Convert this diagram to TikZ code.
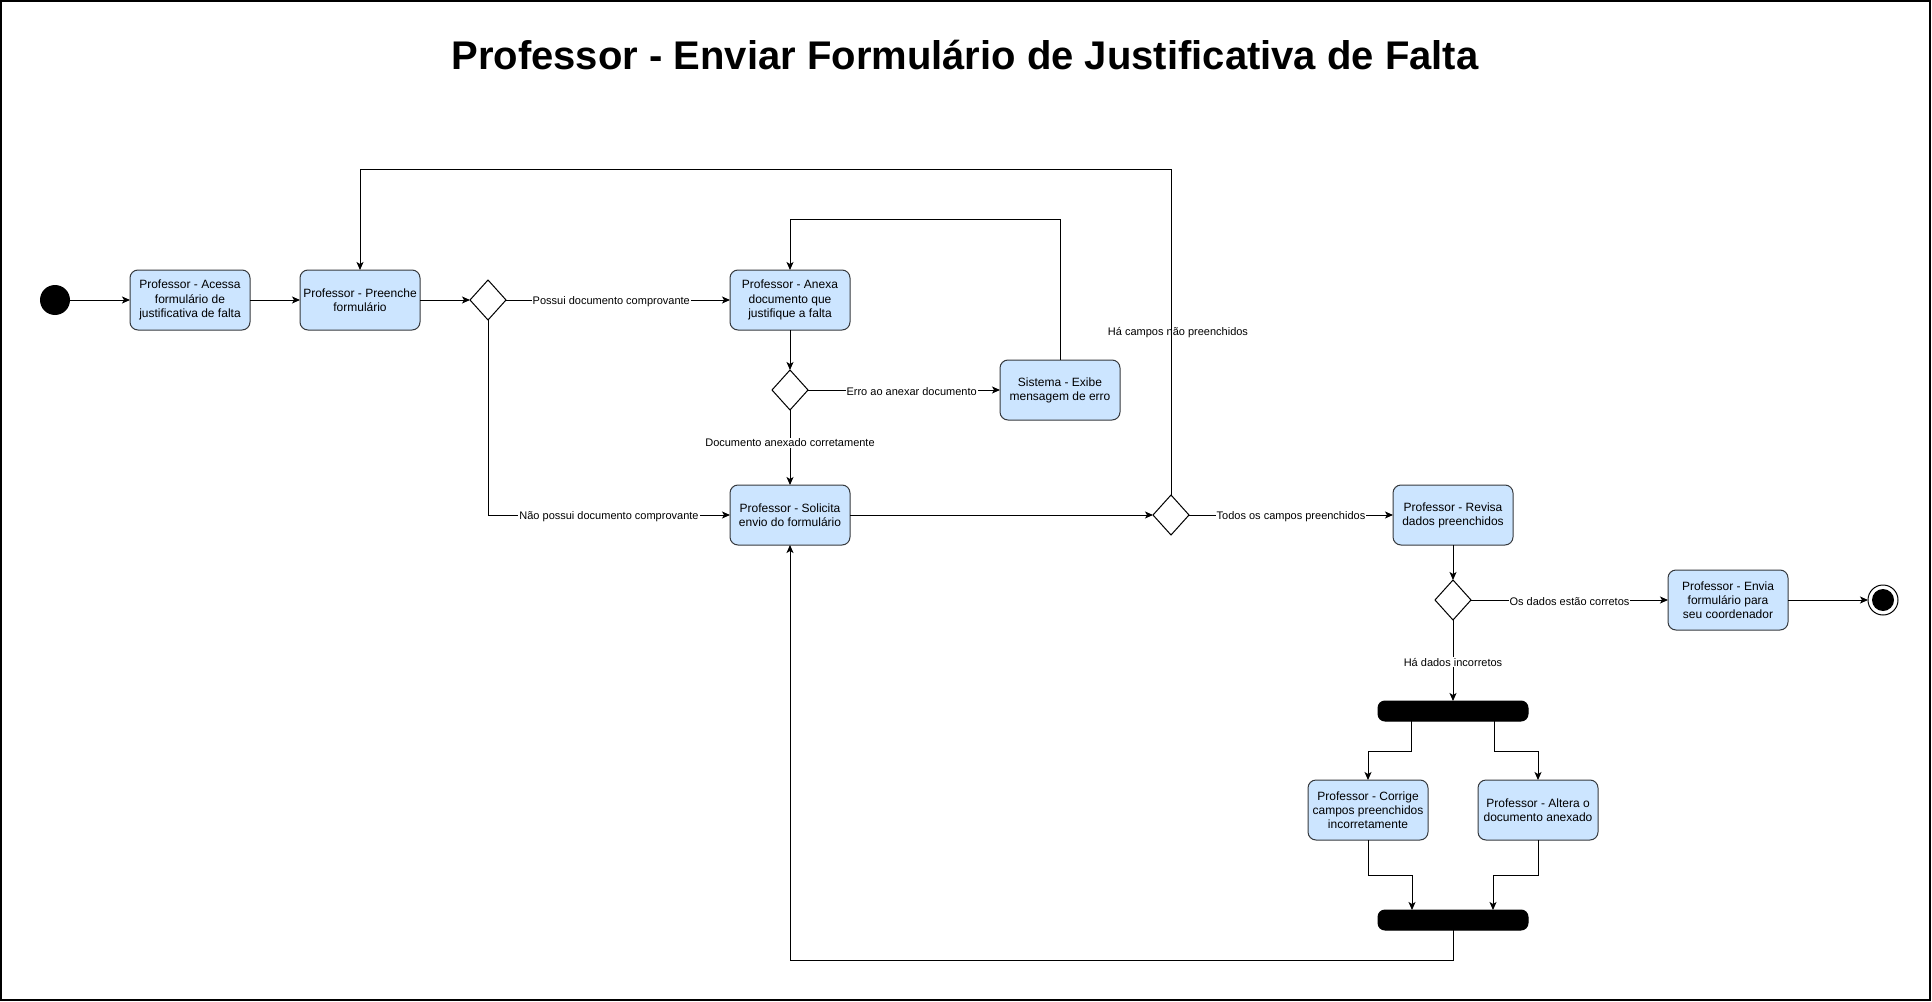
\documentclass[tikz,border=0pt]{standalone}
\usepackage{fontspec}
\setmainfont{Liberation Sans}
\usepackage{tikz}
\usetikzlibrary{arrows.meta,positioning,shapes.geometric}

\definecolor{actfill}{HTML}{CCE5FF}
\definecolor{actline}{HTML}{36393D}
\newdimen\pxu
\pxu=0.75pt

\begin{document}
\begin{tikzpicture}[x=0.75pt,y=-0.75pt,line width=0.75pt,>={Stealth[length=6pt,width=5.25pt,inset=1.5pt]}]
	\tikzstyle{act} = [draw=actline, fill=actfill, rectangle, rounded corners=8\pxu, minimum height=60\pxu, minimum width=120\pxu, align=center, inner sep=1\pxu, outer sep=0pt, font=\fontsize{9}{10.6}\selectfont]
	\tikzstyle{decision} = [draw, fill=white, diamond, minimum width=36\pxu, minimum height=40\pxu, inner sep=0pt, outer sep=0pt]
	\tikzstyle{bar} = [draw, fill=black, rectangle, rounded corners=7\pxu, minimum height=20\pxu, minimum width=150\pxu, inner sep=0pt, outer sep=0pt]
	\tikzstyle{lbl} = [fill=white, inner sep=1\pxu, font=\fontsize{8.25}{9.9}\selectfont]
	
	\useasboundingbox (0,0) rectangle (1932,1002);
	\draw[line width=1pt] (1,1) rectangle (1930,1000);
	\node[font=\fontsize{30}{36}\selectfont\bfseries] (title) at (965,55) {Professor - Enviar Formulário de Justificativa de Falta};
	
	% main row
	\node[circle, fill=black, minimum size=30\pxu, inner sep=0pt, outer sep=0pt] (start) at (55,300) {};
	\node[act, right = 60\pxu of start] (acessa) {Professor - Acessa\\formulário de\\justificativa de falta};
	\node[act, right = 50\pxu of acessa] (preenche) {Professor - Preenche\\formulário};
	\node[decision, right = 50\pxu of preenche] (d1) {};
	\node[act, right = 224\pxu of d1] (anexa) {Professor - Anexa\\documento que\\justifique a falta};
	\node[decision, below = 40\pxu of anexa] (d2) {};
	\node[act, right = 192\pxu of d2] (erro) {Sistema - Exibe\\mensagem de erro};
	\node[act, below = 75\pxu of d2] (solicita) {Professor - Solicita\\envio do formulário};
	\node[decision, right = 303\pxu of solicita] (d3) {};
	\node[act, right = 204\pxu of d3] (revisa) {Professor - Revisa\\dados preenchidos};
	\node[decision, below = 35\pxu of revisa] (d4) {};
	\node[act, right = 197\pxu of d4] (envia) {Professor - Envia\\formulário para\\seu coordenador};
	\node[circle, draw, fill=white, minimum size=30\pxu, inner sep=0pt, outer sep=0pt, right = 80\pxu of envia] (fin) {};
	\fill (fin.center) circle (11\pxu);
	
	% fork / join
	\node[bar, below = 81\pxu of d4] (fork) {};
	\node[act, below = 59\pxu of fork, xshift=-85\pxu] (corrige) {Professor - Corrige\\campos preenchidos\\incorretamente};
	\node[act, below = 59\pxu of fork, xshift=85\pxu] (altera) {Professor - Altera o\\documento anexado};
	\node[bar, below = 189\pxu of fork] (join) {};
	
	\coordinate[above = 100\pxu of preenche] (topb);
	\coordinate[above = 50\pxu of anexa] (topc);
	\coordinate[below = 415\pxu of solicita] (botf);
	
	\draw [->] (start) -- (acessa);
	\draw [->] (acessa) -- (preenche);
	\draw [->] (preenche) -- (d1);
	\draw [->] (d1) -- node[lbl, pos=0.47, yshift=-2\pxu]{Possui documento comprovante} (anexa);
	\draw [->] (d1.south) |- node[lbl, pos=0.75, yshift=-2\pxu]{Não possui documento comprovante} (solicita.west);
	\draw [->] (anexa) -- (d2);
	\draw [->] (d2) -- node[lbl, pos=0.54, yshift=-2\pxu]{Erro ao anexar documento} (erro);
	\draw [->] (d2) -- node[lbl, pos=0.44]{Documento anexado corretamente} (solicita);
	\draw [->] (erro.north) |- (topc) -- (anexa.north);
	\draw [->] (solicita) -- (d3);
	\draw [->] (d3.north) |- node[pos=0.25, xshift=7\pxu, font=\fontsize{8.25}{9.9}\selectfont]{Há campos não preenchidos} (topb) -- (preenche.north);
	\draw [->] (d3) -- node[lbl, yshift=-2\pxu]{Todos os campos preenchidos} (revisa);
	\draw [->] (revisa) -- (d4);
	\draw [->] (d4) -- node[lbl, yshift=-2\pxu]{Os dados estão corretos} (envia);
	\draw [->] (envia) -- (fin);
	\draw [->] (d4) -- node[lbl, pos=0.52]{Há dados incorretos} (fork);
	\draw [->] ([xshift=-42\pxu]fork.south) -- ++(0,30) -| (corrige.north);
	\draw [->] ([xshift=41\pxu]fork.south) -- ++(0,30) -| (altera.north);
	\draw [->] (corrige.south) -- ++(0,35) -| ([xshift=-41\pxu]join.north);
	\draw [->] (altera.south) -- ++(0,35) -| ([xshift=40\pxu]join.north);
	\draw [->] (join.south) |- (botf) -- (solicita.south);
	
\end{tikzpicture}
\end{document}
